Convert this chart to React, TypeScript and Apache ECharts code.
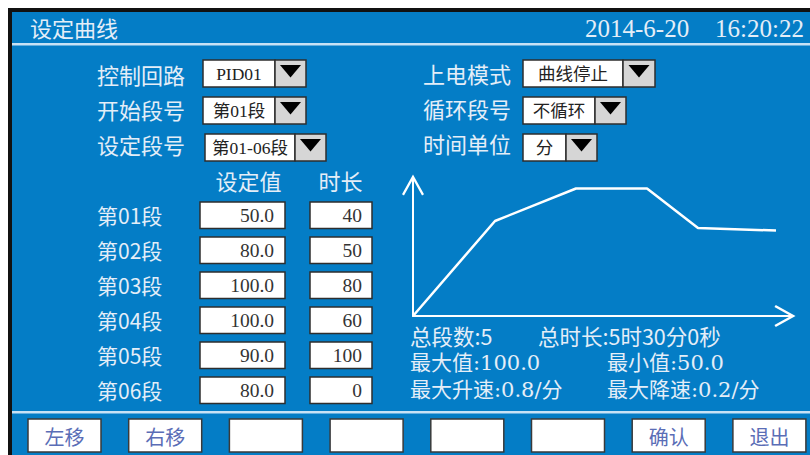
import React, { useEffect, useRef } from 'react';
import * as echarts from 'echarts';

// ---------- data ----------
const titleText = '设定曲线';
const dateText = '2014-6-20';
const timeText = '16:20:22';

const leftFormLabels = ['控制回路', '开始段号', '设定段号'];
const leftFormValues = ['PID01', '第01段', '第01-06段'];
const rightFormLabels = ['上电模式', '循环段号', '时间单位'];
const rightFormValues = ['曲线停止', '不循环', '分'];

const tableHeaders = ['设定值', '时长'];
const segmentLabels = ['第01段', '第02段', '第03段', '第04段', '第05段', '第06段'];
const setValues = ['50.0', '80.0', '100.0', '100.0', '90.0', '80.0'];
const durations = ['40', '50', '80', '60', '100', '0'];

// curve as drawn (schematic units)
const curveTime = [0, 82, 163, 234, 285, 363];
const curveValue = [0, 74.5, 100, 100, 69, 67];

const statsLeft = ['总段数:5', '最大值:100.0', '最大升速:0.8/分'];
const statsRight = ['总时长:5时30分0秒', '最小值:50.0', '最大降速:0.2/分'];

const buttonLabels = ['左移', '右移', '', '', '', '', '确认', '退出'];

// ---------- layout / style ----------
const BLUE = '#047dc6';
const LIGHT = '#e4eef8';
const SEP = '#c8e2f5';
const BORDER = '#2e2e2e';
const CJK = '"Noto Sans CJK SC"';
const SERIF = '"Liberation Serif", "Noto Sans CJK SC"';
const WSERIF = '"DejaVu Serif", "Noto Sans CJK SC"';

const leftRowTop = [60, 97, 134];
const leftLabelY = [74, 109, 144];
const leftBoxGeom = [
  [203, 72, 31],
  [203, 72, 31],
  [205, 90, 31],
];
const rightRowTop = [60, 97, 134];
const rightLabelY = [73, 108, 143];
const rightBoxGeom = [
  [523, 100, 32],
  [523, 72, 31],
  [523, 43, 31],
];
const ROW_H = 27;

const ARROW = 'path://M10,0 L20,18 L18.2,19.2 L10,4.4 L1.8,19.2 L0,18 Z';

function txt(text: string, x: number, y: number, size: number, family: string, fill: string, align = 'left') {
  return {
    type: 'text',
    style: {
      text,
      x,
      y,
      fontSize: size,
      fontFamily: family,
      fill,
      textAlign: align,
      align,
      textVerticalAlign: 'middle',
      verticalAlign: 'middle',
    },
  };
}

function rect(x: number, y: number, w: number, h: number, fill: string, stroke?: string, lw?: number) {
  return {
    type: 'rect',
    shape: { x, y, width: w, height: h },
    style: { fill, stroke: stroke || null, lineWidth: lw || 0 },
  };
}

function dropdown(x: number, y: number, w: number, aw: number, value: string) {
  const els: any[] = [];
  els.push(rect(x, y, w, ROW_H, '#ffffff', BORDER, 1.5));
  els.push(rect(x + w, y, aw, ROW_H, '#d6d6d6', BORDER, 1.5));
  const cx = x + w + aw / 2;
  els.push({
    type: 'polygon',
    shape: {
      points: [
        [cx - 10.5, y + 5],
        [cx + 10.5, y + 5],
        [cx, y + 17.5],
      ],
    },
    style: { fill: '#000000' },
  });
  els.push(txt(value, x + w / 2, y + ROW_H / 2 + 0.5, 17.5, SERIF, '#222222', 'center'));
  return els;
}

function buildGraphics() {
  const els: any[] = [];
  // frame
  els.push(rect(8, 8, 802, 447, '#111111'));
  els.push(rect(12, 12, 798, 443, BLUE));
  els.push(rect(12, 43, 798, 2.5, SEP));
  els.push(rect(12, 411, 798, 2.5, SEP));

  // title bar
  els.push(txt(titleText, 30, 27, 22, CJK, LIGHT));
  els.push(txt(dateText, 585, 28, 25, SERIF, LIGHT));
  els.push(txt(timeText, 804, 28, 25, SERIF, LIGHT, 'right'));

  // form
  leftFormLabels.forEach((l, i) => {
    els.push(txt(l, 97, leftLabelY[i], 22, CJK, LIGHT));
    const g = leftBoxGeom[i];
    els.push(...dropdown(g[0], leftRowTop[i], g[1], g[2], leftFormValues[i]));
  });
  rightFormLabels.forEach((l, i) => {
    els.push(txt(l, 423, rightLabelY[i], 22, CJK, LIGHT));
    const g = rightBoxGeom[i];
    els.push(...dropdown(g[0], rightRowTop[i], g[1], g[2], rightFormValues[i]));
  });

  // table
  els.push(txt(tableHeaders[0], 248.5, 180, 22, CJK, LIGHT, 'center'));
  els.push(txt(tableHeaders[1], 340.5, 180, 22, CJK, LIGHT, 'center'));
  segmentLabels.forEach((l, i) => {
    const top = 202 + i * 35;
    const cy = top + 13.3;
    els.push(txt(l, 97, cy, 21, CJK, LIGHT));
    els.push(rect(200, top, 85, 26.5, '#ffffff', BORDER, 1.5));
    els.push(txt(setValues[i], 274, cy + 0.5, 19.5, SERIF, '#333333', 'right'));
    els.push(rect(310, top, 62, 26.5, '#ffffff', BORDER, 1.5));
    els.push(txt(durations[i], 362, cy + 0.5, 19.5, SERIF, '#333333', 'right'));
  });

  // stats
  const statY = [335, 363, 390];
  const rightX = [538, 607, 607];
  statsLeft.forEach((s, i) => {
    const fam = i === 0 ? CJK : WSERIF;
    const size = i === 0 ? 21.5 : 21;
    els.push(txt(s, 410, statY[i], size, fam, LIGHT));
    els.push(txt(statsRight[i], rightX[i], statY[i], size, fam, LIGHT));
  });

  // buttons
  buttonLabels.forEach((b, i) => {
    const x = 28 + i * 100.7;
    els.push(rect(x, 419, 73, 33, '#ffffff', '#3a3a3a', 1.5));
    if (b) els.push(txt(b, x + 36.5, 436, 20, CJK, '#5a6db6', 'center'));
  });
  return els;
}

export default function App() {
  const ref = useRef<HTMLDivElement>(null);
  useEffect(() => {
    if (!ref.current) return;
    const chart = echarts.init(ref.current, undefined, { renderer: 'svg' });
    const axisCommon = {
      type: 'value',
      min: 0,
      z: 5,
      axisLine: {
        show: true,
        onZero: false,
        lineStyle: { color: '#ffffff', width: 2 },
        symbol: ['none', ARROW],
        symbolSize: [22, 22],
        symbolOffset: [0, -8],
      },
      axisTick: { show: false },
      axisLabel: { show: false },
      splitLine: { show: false },
    };
    chart.setOption({
      animation: false,
      backgroundColor: '#ffffff',
      grid: { left: 413, right: 17, top: 177, bottom: 139, containLabel: false, outerBoundsMode: 'none' },
      xAxis: { ...axisCommon, max: 380 },
      yAxis: { ...axisCommon, max: 109 },
      series: [
        {
          type: 'line',
          z: 5,
          silent: true,
          symbol: 'none',
          showSymbol: false,
          lineStyle: { color: '#ffffff', width: 2.5 },
          data: curveTime.map((t, i) => [t, curveValue[i]]),
        },
      ],
      graphic: { elements: buildGraphics() },
    });
    return () => chart.dispose();
  }, []);
  return (
    <div
      ref={ref}
      style={{ position: 'absolute', left: 0, top: 0, width: 810, height: 455 }}
    />
  );
}
